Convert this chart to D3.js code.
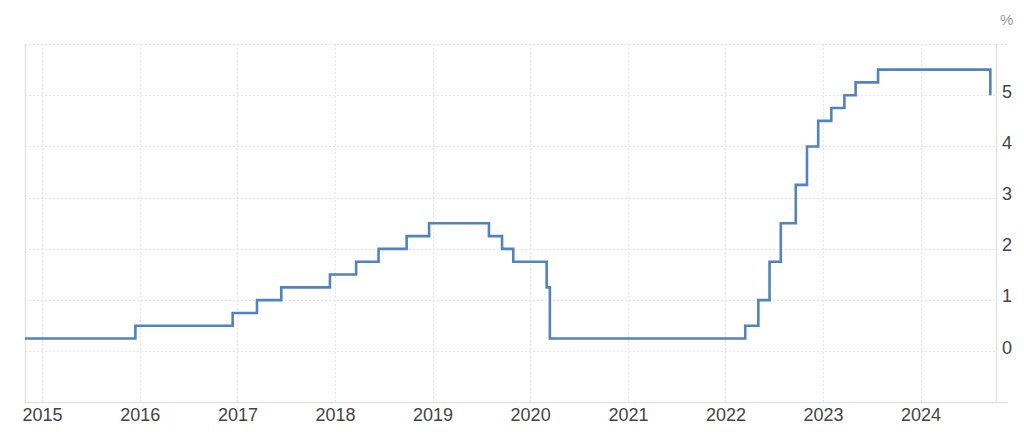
<!DOCTYPE html>
<html>
<head>
<meta charset="utf-8">
<script src="https://cdn.jsdelivr.net/npm/d3@7"></script>
<style>
  html, body { margin: 0; padding: 0; background: #fff; }
  svg { display: block; font-family: "Liberation Sans", Arial, sans-serif; }
</style>
</head>
<body>
<svg id="chart" width="1024" height="439"></svg>
<script>
// Fed funds rate (upper bound), change dates and new values
const changeDates = [
  "2014-10-29", "2015-12-16", "2016-12-14", "2017-03-15", "2017-06-14",
  "2017-12-13", "2018-03-21", "2018-06-13", "2018-09-26", "2018-12-19",
  "2019-07-31", "2019-09-18", "2019-10-30", "2020-03-03", "2020-03-15",
  "2022-03-16", "2022-05-04", "2022-06-15", "2022-07-27", "2022-09-21",
  "2022-11-02", "2022-12-14", "2023-02-01", "2023-03-22", "2023-05-03",
  "2023-07-26", "2024-09-18"
];
const rateValues = [
  0.25, 0.50, 0.75, 1.00, 1.25,
  1.50, 1.75, 2.00, 2.25, 2.50,
  2.25, 2.00, 1.75, 1.25, 0.25,
  0.50, 1.00, 1.75, 2.50, 3.25,
  4.00, 4.50, 4.75, 5.00, 5.25,
  5.50, 5.00
];
const yearTicks = ["2015", "2016", "2017", "2018", "2019", "2020", "2021", "2022", "2023", "2024"];
const yTicks = [0, 1, 2, 3, 4, 5];
const xDomain = ["2014-10-29", "2024-10-13"];
const yDomain = [-1, 6];
const unitLabel = "%";

const parse = d3.timeParse("%Y-%m-%d");
const data = changeDates.map((d, i) => ({ date: parse(d), value: rateValues[i] }));

const svg = d3.select("#chart");
const pLeft = 25, pRight = 997, pTop = 44, pBottom = 402.6;

const x = d3.scaleTime().domain(xDomain.map(parse)).range([pLeft, pRight]);
const y = d3.scaleLinear().domain(yDomain).range([pBottom, pTop]);

const gridColor = "#e6e6e6";

// horizontal gridlines (0..6)
const hGrid = yTicks.concat([6]);
svg.append("g").selectAll("line").data(hGrid).join("line")
  .attr("x1", pLeft).attr("x2", d => d === 6 ? 1008 : pRight)
  .attr("y1", d => Math.round(y(d)) + 0.5).attr("y2", d => Math.round(y(d)) + 0.5)
  .attr("stroke", gridColor).attr("stroke-width", 1).attr("stroke-dasharray", "2,2");

// vertical gridlines at years
const yearDates = yearTicks.map(t => parse(t + "-01-01"));
svg.append("g").selectAll("line").data(yearDates).join("line")
  .attr("x1", d => Math.round(x(d)) + 0.5).attr("x2", d => Math.round(x(d)) + 0.5)
  .attr("y1", pTop).attr("y2", pBottom)
  .attr("stroke", gridColor).attr("stroke-width", 1).attr("stroke-dasharray", "2,2");

// frame lines: left, right vertical, bottom axis
svg.append("line").attr("x1", pLeft + 0.5).attr("x2", pLeft + 0.5).attr("y1", pTop).attr("y2", pBottom)
  .attr("stroke", "#e2e2e2").attr("stroke-width", 1.5);
svg.append("line").attr("x1", pRight - 0.5).attr("x2", pRight - 0.5).attr("y1", pTop).attr("y2", pBottom)
  .attr("stroke", "#e2e2e2").attr("stroke-width", 1.5);
svg.append("line").attr("x1", pLeft).attr("x2", 1008).attr("y1", pBottom).attr("y2", pBottom)
  .attr("stroke", "#e2e2e2").attr("stroke-width", 1.5);

// x axis labels
const xAxis = d3.axisBottom(x).tickValues(yearDates).tickFormat(d3.timeFormat("%Y")).tickSize(0).tickPadding(0);
const xg = svg.append("g").attr("transform", `translate(0,${pBottom})`).call(xAxis);
xg.select(".domain").remove();
xg.selectAll("text").attr("font-size", 18).attr("fill", "#444").attr("dy", "1em")
  .attr("font-family", "'Liberation Sans', Arial, sans-serif");

// y axis labels on right
const yAxis = d3.axisRight(y).tickValues(yTicks).tickFormat(d3.format("d")).tickSize(0).tickPadding(0);
const yg = svg.append("g").attr("transform", `translate(1002,0)`).call(yAxis);
yg.select(".domain").remove();
yg.selectAll("text").attr("font-size", 18).attr("fill", "#444").attr("dy", "0.1em")
  .attr("text-anchor", "start").attr("x", 0)
  .attr("font-family", "'Liberation Sans', Arial, sans-serif");

// unit label
svg.append("text").attr("x", 1000).attr("y", 25).text(unitLabel)
  .attr("font-size", 15).attr("fill", "#999");

// step line
const line = d3.line().x(d => x(d.date)).y(d => y(d.value)).curve(d3.curveStepAfter);
svg.append("path").datum(data).attr("d", line)
  .attr("fill", "none").attr("stroke", "#5182c2").attr("stroke-width", 2.6)
  .attr("stroke-linejoin", "miter");
</script>
</body>
</html>
